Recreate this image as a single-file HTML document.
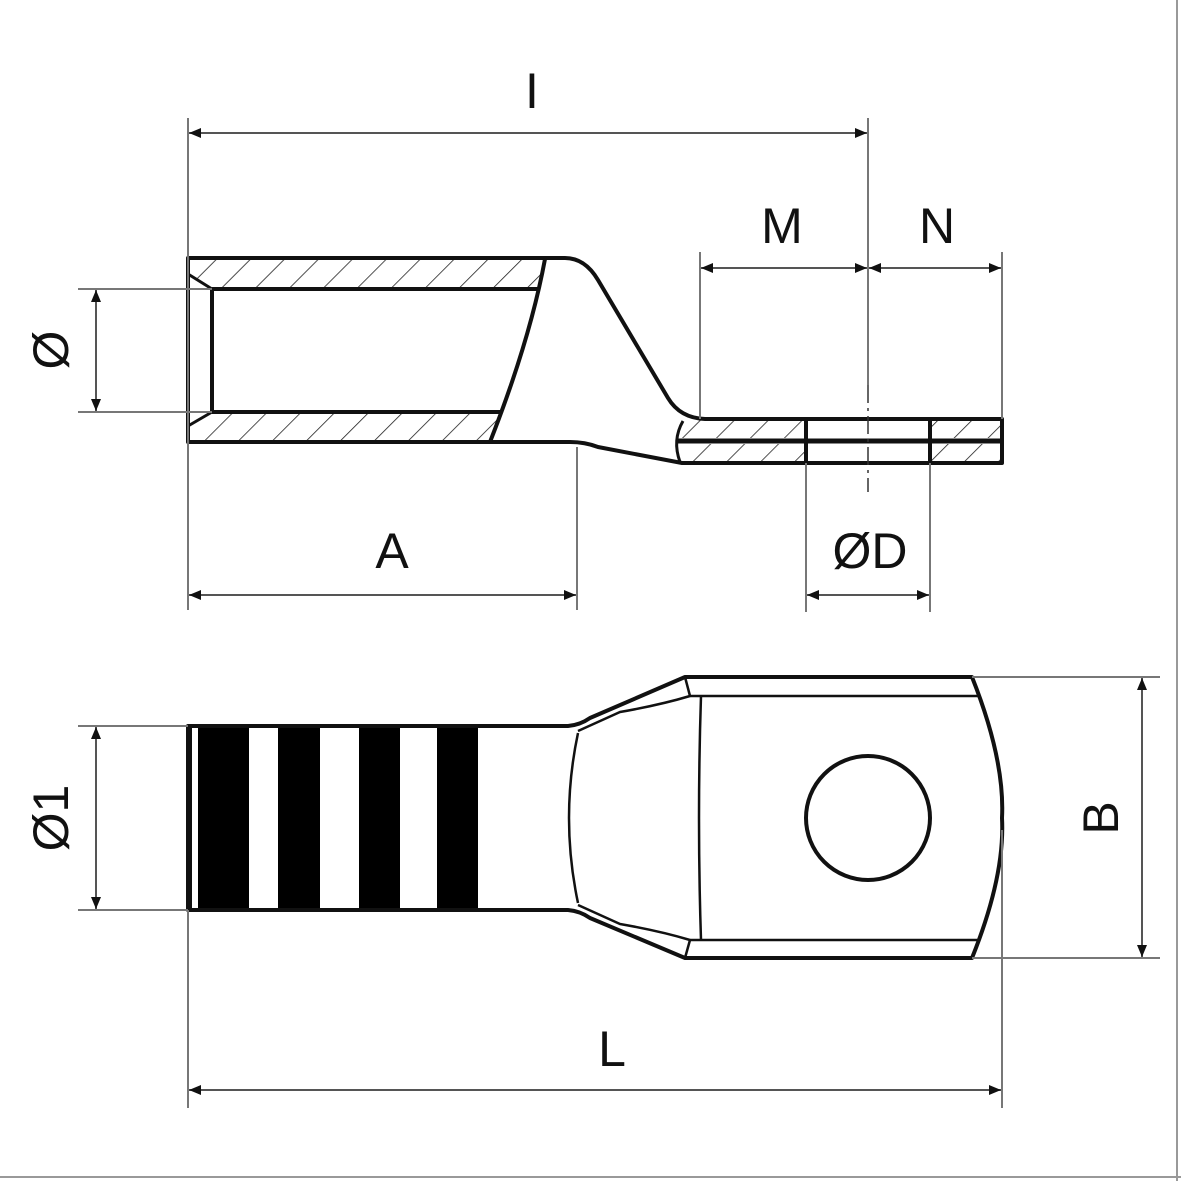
<!DOCTYPE html>
<html><head><meta charset="utf-8"><style>
html,body{margin:0;padding:0;background:#fff;}
svg{display:block;}
text{font-family:"Liberation Sans","DejaVu Sans",sans-serif;font-size:50px;fill:#111;}
</style></head><body>
<svg width="1181" height="1181" viewBox="0 0 1181 1181" xmlns="http://www.w3.org/2000/svg">
<defs>
<pattern id="h" patternUnits="userSpaceOnUse" width="24" height="24" patternTransform="rotate(45)">
<line x1="0" y1="0" x2="0" y2="24" stroke="#222" stroke-width="1.6"/>
</pattern>
<marker id="a" viewBox="0 0 12 10" refX="12" refY="5" markerWidth="12" markerHeight="10" markerUnits="userSpaceOnUse" orient="auto-start-reverse">
<path d="M0,0 L12,5 L0,10 z" fill="#111"/>
</marker>
</defs>
<rect x="0" y="0" width="1181" height="1181" fill="#fff"/>
<line x1="1177" y1="0" x2="1177" y2="1181" stroke="#999" stroke-width="2"/>
<line x1="0" y1="1177" x2="1181" y2="1177" stroke="#999" stroke-width="2"/>

<!-- ===== TOP VIEW ===== -->
<g stroke="#111" stroke-width="4" fill="none" stroke-linejoin="round">
<path d="M190,260 L545,260 L539,289 L212,289 L190,274 z" fill="url(#h)" stroke="none"/>
<path d="M190,426 L212,412 L501,412 L488,442 L190,442 z" fill="url(#h)" stroke="none"/>
<rect x="680" y="420" width="126" height="18" fill="url(#h)" stroke="none"/>
<rect x="680" y="444" width="126" height="18" fill="url(#h)" stroke="none"/>
<rect x="930" y="420" width="72" height="18" fill="url(#h)" stroke="none"/>
<rect x="930" y="444" width="72" height="18" fill="url(#h)" stroke="none"/>
<path d="M188,258 L565,258 Q585,258 598,280 L668,398 Q680,418 705,419 L1002,419 L1002,463 L682,463 Q640,455 598,447 Q585,442 570,442 L188,442 z"/>
<line x1="212" y1="289" x2="539" y2="289"/>
<line x1="212" y1="412" x2="501" y2="412"/>
<line x1="212" y1="289" x2="212" y2="412"/>
<line x1="188" y1="274" x2="212" y2="289" stroke-width="3"/>
<line x1="188" y1="426" x2="212" y2="412" stroke-width="3"/>
<path d="M545,259 Q530,340 490,442"/>
<line x1="678" y1="441" x2="1002" y2="441" stroke-width="5"/>
<path d="M683,421 Q672,440 680,462" stroke-width="3"/>
<line x1="806" y1="419" x2="806" y2="463"/>
<line x1="930" y1="419" x2="930" y2="463"/>
</g>
<line x1="868" y1="385" x2="868" y2="492" stroke="#333" stroke-width="1.5" stroke-dasharray="18,5,3,5"/>

<g stroke="#777" stroke-width="2" fill="none">
<line x1="188" y1="118" x2="188" y2="610"/>
<line x1="868" y1="118" x2="868" y2="385"/>
<line x1="700" y1="252" x2="700" y2="419"/>
<line x1="1002" y1="252" x2="1002" y2="419"/>
<line x1="78" y1="289" x2="212" y2="289"/>
<line x1="78" y1="412" x2="212" y2="412"/>
<line x1="577" y1="447" x2="577" y2="610"/>
<line x1="806" y1="463" x2="806" y2="612"/>
<line x1="930" y1="463" x2="930" y2="612"/>
</g>
<g stroke="#555" stroke-width="2" fill="none" marker-start="url(#a)" marker-end="url(#a)">
<line x1="189" y1="133" x2="867" y2="133"/>
<line x1="701" y1="268" x2="867" y2="268"/>
<line x1="869" y1="268" x2="1001" y2="268"/>
<line x1="96" y1="290" x2="96" y2="411"/>
<line x1="189" y1="595" x2="576" y2="595"/>
<line x1="807" y1="595" x2="929" y2="595"/>
</g>
<text x="532" y="108" text-anchor="middle">I</text>
<text x="782" y="243" text-anchor="middle">M</text>
<text x="937" y="243" text-anchor="middle">N</text>
<text x="392" y="568" text-anchor="middle">A</text>
<text x="870" y="568" text-anchor="middle">ØD</text>
<text transform="translate(68,350) rotate(-90)" text-anchor="middle">Ø</text>

<!-- ===== BOTTOM VIEW ===== -->
<g fill="#000">
<rect x="198" y="728" width="51" height="180"/>
<rect x="278" y="728" width="42" height="180"/>
<rect x="359" y="728" width="41" height="180"/>
<rect x="437" y="728" width="41" height="180"/>
</g>
<g stroke="#111" stroke-width="4" fill="none" stroke-linejoin="round">
<path d="M188,726 L568,726 Q580,725 590,718 L685,677 L972,677 Q1005,760 1002,818 Q1005,876 972,958 L685,958 L590,918 Q580,911 568,910 L188,910 z"/>
<line x1="191" y1="728" x2="191" y2="908" stroke-width="2"/>
<line x1="690" y1="696" x2="978" y2="696" stroke-width="2.5"/>
<line x1="690" y1="940" x2="978" y2="940" stroke-width="2.5"/>
<path d="M701,696 Q697,818 701,940" stroke-width="2.5"/>
<path d="M685,677 L690,696" stroke-width="2.5"/>
<path d="M685,958 L690,940" stroke-width="2.5"/>
<path d="M578,733 Q560,818 578,903" stroke-width="2.5"/>
<path d="M578,731 L620,712 Q660,705 690,696" stroke-width="2.5"/>
<path d="M578,905 L620,924 Q660,931 690,940" stroke-width="2.5"/>
<circle cx="868" cy="818" r="62"/>
</g>
<g stroke="#777" stroke-width="2" fill="none">
<line x1="78" y1="726" x2="188" y2="726"/>
<line x1="78" y1="910" x2="188" y2="910"/>
<line x1="188" y1="910" x2="188" y2="1108"/>
<line x1="1002" y1="830" x2="1002" y2="1108"/>
<line x1="972" y1="677" x2="1160" y2="677"/>
<line x1="972" y1="958" x2="1160" y2="958"/>
</g>
<g stroke="#555" stroke-width="2" fill="none" marker-start="url(#a)" marker-end="url(#a)">
<line x1="96" y1="727" x2="96" y2="909"/>
<line x1="1142" y1="678" x2="1142" y2="957"/>
<line x1="189" y1="1090" x2="1001" y2="1090"/>
</g>
<text x="612" y="1066" text-anchor="middle">L</text>
<text transform="translate(68,818) rotate(-90)" text-anchor="middle">Ø1</text>
<text transform="translate(1118,818) rotate(-90)" text-anchor="middle">B</text>
</svg>
</body></html>
